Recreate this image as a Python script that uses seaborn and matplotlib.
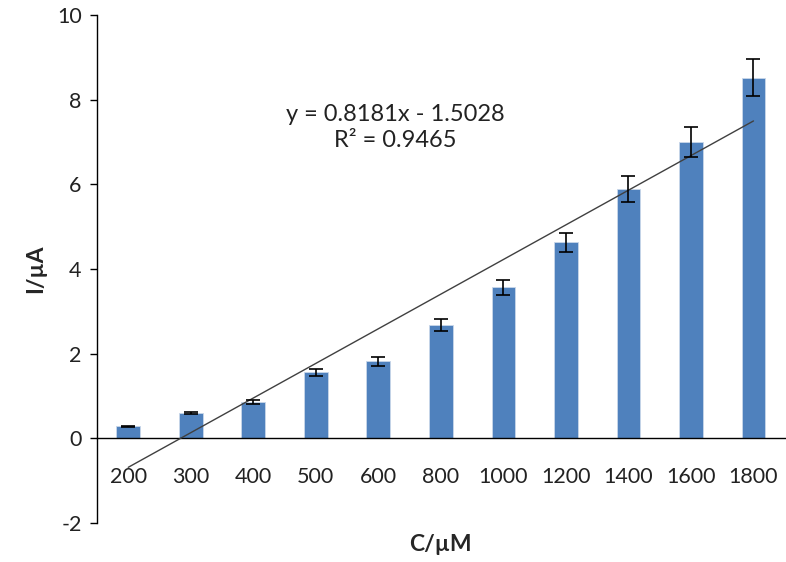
import numpy as np
import pandas as pd
import matplotlib
matplotlib.use("Agg")
import matplotlib.pyplot as plt
import seaborn as sns

# ---- data ----
concentrations = ["200", "300", "400", "500", "600", "800", "1000", "1200", "1400", "1600", "1800"]
currents = [0.28, 0.59, 0.86, 1.56, 1.82, 2.68, 3.57, 4.63, 5.89, 7.00, 8.52]
errors = [0.02, 0.02, 0.05, 0.08, 0.10, 0.14, 0.18, 0.23, 0.30, 0.36, 0.43]
slope = 0.8181
intercept = -1.5028
r_squared = 0.9465
y_ticks = [-2, 0, 2, 4, 6, 8, 10]

sns.set_theme(style="white")
plt.rcParams["font.family"] = ["Lato", "DejaVu Sans"]

df = pd.DataFrame({"C": concentrations, "I": currents})

fig = plt.figure(figsize=(7.86, 5.62), dpi=100)
ax = fig.add_axes([0.1234, 0.0694, 0.875, 0.904])

bar_color = "#4F81BD"
sns.barplot(data=df, x="C", y="I", order=concentrations, color=bar_color,
            width=0.38, saturation=1, edgecolor="#c9d7ea", linewidth=0.6,
            errorbar=None, ax=ax)

xpos = np.arange(len(concentrations))
ax.errorbar(xpos, currents, yerr=errors, fmt="none", ecolor="black",
            elinewidth=1.2, capsize=5, capthick=1.2, zorder=5)

# linear trendline (Excel style, x = 1..n)
xi = xpos + 1
ax.plot(xpos, slope * xi + intercept, color="#404040", lw=1.0, zorder=4)

ax.text(4.27, 7.35, f"y = {slope}x - {abs(intercept)}\nR² = {r_squared}",
        ha="center", va="center", fontsize=17, linespacing=1.3, color="#222222")

ax.set_xlim(-0.5, len(concentrations) - 0.5)
ax.set_ylim(-2, 10)
ax.set_yticks(y_ticks)
ax.set_yticklabels([str(v) for v in y_ticks])

for s in ["top", "right"]:
    ax.spines[s].set_visible(False)
ax.spines["bottom"].set_position(("data", 0))
ax.spines["left"].set_color("black")
ax.spines["bottom"].set_color("black")
ax.spines["left"].set_linewidth(1.0)
ax.spines["bottom"].set_linewidth(1.0)

ax.set_xticks(xpos)
ax.set_xticklabels(concentrations)
ax.set_xticks(np.arange(0.5, len(concentrations) - 0.5, 1), minor=True)
ax.tick_params(axis="x", which="major", length=0, pad=21, labelsize=15.5, colors="#222222")
ax.tick_params(axis="x", which="minor", length=6, width=1.0, direction="out", color="black")
ax.tick_params(axis="y", which="major", length=5, width=1.0, direction="out",
               left=True, labelsize=15.5, colors="#222222", pad=6)
ax.tick_params(axis="y", colors="black", labelcolor="#222222")

ax.set_xlabel("C/µM", fontsize=16.5, fontweight="bold", labelpad=0)
ax.set_ylabel("I/µA", fontsize=16.5, fontweight="bold", labelpad=8)
ax.xaxis.set_label_coords(0.5, -0.022)

fig.savefig("out.png", dpi=100)
